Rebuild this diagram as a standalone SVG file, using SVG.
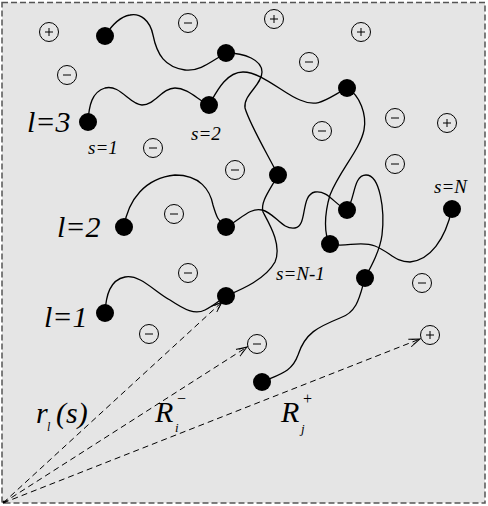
<svg xmlns="http://www.w3.org/2000/svg" width="488" height="506" viewBox="0 0 488 506">
<style>
.chain{fill:none;stroke:#000;stroke-width:1.3}
.bead{fill:#000}
.ion circle{fill:none;stroke:#000;stroke-width:1}
.ion path{stroke:#000;stroke-width:1;fill:none}
.vec{fill:none;stroke:#000;stroke-width:1;stroke-dasharray:6 4}
.lab{font-family:"Liberation Serif","Times New Roman",serif;font-style:italic;fill:#000}
</style>
<defs>
<marker id="ah" viewBox="0 0 12 10" refX="11" refY="5" markerWidth="12" markerHeight="10" markerUnits="userSpaceOnUse" orient="auto">
<path d="M0,1 L11,5 L0,9 M3,2.5 L11,5 L3,7.5" fill="none" stroke="#000" stroke-width="0.9"/>
</marker>
</defs>
<rect x="2" y="2.5" width="483" height="500.5" fill="#e5e5e5" stroke="#555" stroke-width="1.5" stroke-dasharray="6 3"/>

<g id="connectors">
<!-- chain l=3 -->
<path class="chain" d="M88,122 C89,105 92,92 105,88 C120,84 130,105 142,105 C155,105 162,88 175,88 C188,88 198,100 209,105"/>
<path class="chain" d="M209,105 C215,95 225,72 243,72 C262,72 285,95 300,100 C318,108 325,100 347,88"/>
<path class="chain" d="M347,88 C360,95 367,115 364,130 C360,150 340,170 330,195 C324,215 324,235 330,244"/>
<path class="chain" d="M330,244 C345,248 360,240 375,246 C390,252 395,262 410,262 C430,260 445,240 452,209"/>
<!-- chain l=2 -->
<path class="chain" d="M124,227 C128,200 145,178 175,175 C200,175 210,190 213,205 C216,215 218,222 226,227"/>
<path class="chain" d="M226,227 C240,220 250,207 262,210 C275,213 282,230 295,228 C308,226 300,195 315,192 C328,190 335,205 347,210"/>
<path class="chain" d="M347,210 C355,200 353,175 366,175 C380,175 385,210 382,235 C380,250 372,265 365,278"/>
<path class="chain" d="M365,278 C360,295 358,312 340,318 C318,327 305,333 298,355 C292,372 280,374 262,382"/>
<!-- chain l=1 -->
<path class="chain" d="M105,313 C106,295 110,280 125,277 C140,274 155,292 170,300 C185,310 195,315 205,310 C215,305 220,300 226,296"/>
<path class="chain" d="M226,296 C240,290 265,280 275,262 C282,245 270,225 263,212 C260,202 270,190 278,175"/>
<path class="chain" d="M278,175 C268,155 250,125 245,108 C243,95 262,85 262,72 C262,60 245,53 226,53"/>
<path class="chain" d="M226,53 C213,60 200,72 185,70 C165,67 157,55 153,35 C150,20 140,13 130,15 C118,17 110,28 105,36"/>
<!-- position vectors -->
<path class="vec" marker-end="url(#ah)" d="M3,503 L222,302"/>
<path class="vec" marker-end="url(#ah)" d="M3,503 L247,347"/>
<path class="vec" marker-end="url(#ah)" d="M3,503 L420,339"/>
<circle cx="4" cy="502" r="1.5" fill="#000"/>
</g>

<g id="beads">
<circle id="bA" class="bead" cx="105" cy="36" r="9"/>
<circle id="bB" class="bead" cx="226" cy="53" r="9"/>
<circle id="bC" class="bead" cx="209" cy="105" r="9"/>
<circle id="bD" class="bead" cx="88" cy="122" r="9"/>
<circle id="bE" class="bead" cx="347" cy="88" r="9"/>
<circle id="bF" class="bead" cx="278" cy="175" r="9"/>
<circle id="bG" class="bead" cx="124" cy="227" r="9"/>
<circle id="bH" class="bead" cx="226" cy="227" r="9"/>
<circle id="bI" class="bead" cx="347" cy="210" r="9"/>
<circle id="bJ" class="bead" cx="330" cy="244" r="9"/>
<circle id="bK" class="bead" cx="452" cy="209" r="9"/>
<circle id="bL" class="bead" cx="365" cy="278" r="9"/>
<circle id="bM" class="bead" cx="105" cy="313" r="9"/>
<circle id="bN" class="bead" cx="226" cy="296" r="9"/>
<circle id="bO" class="bead" cx="262" cy="382" r="9"/>
</g>

<g id="ions">
<g id="p1" class="ion"><circle cx="49" cy="32" r="9.5"/><path d="M45,32 H53 M49,28 V36"/></g>
<g id="p2" class="ion"><circle cx="274" cy="19" r="9.5"/><path d="M270,19 H278 M274,15 V23"/></g>
<g id="p3" class="ion"><circle cx="361" cy="32" r="9.5"/><path d="M357,32 H365 M361,28 V36"/></g>
<g id="p4" class="ion"><circle cx="447" cy="123" r="9.5"/><path d="M443,123 H451 M447,119 V127"/></g>
<g id="p5" class="ion"><circle cx="430" cy="335" r="9.5"/><path d="M426,335 H434 M430,331 V339"/></g>
<g id="m1" class="ion"><circle cx="188" cy="23" r="9.5"/><path d="M184,23 H192"/></g>
<g id="m2" class="ion"><circle cx="67" cy="75" r="9.5"/><path d="M63,75 H71"/></g>
<g id="m3" class="ion"><circle cx="309" cy="62" r="9.5"/><path d="M305,62 H313"/></g>
<g id="m4" class="ion"><circle cx="153" cy="148" r="9.5"/><path d="M149,148 H157"/></g>
<g id="m5" class="ion"><circle cx="322" cy="131" r="9.5"/><path d="M318,131 H326"/></g>
<g id="m6" class="ion"><circle cx="395" cy="118" r="9.5"/><path d="M391,118 H399"/></g>
<g id="m7" class="ion"><circle cx="235" cy="170" r="9.5"/><path d="M231,170 H239"/></g>
<g id="m8" class="ion"><circle cx="395" cy="164" r="9.5"/><path d="M391,164 H399"/></g>
<g id="m9" class="ion"><circle cx="174" cy="214" r="9.5"/><path d="M170,214 H178"/></g>
<g id="m10" class="ion"><circle cx="188" cy="273" r="9.5"/><path d="M184,273 H192"/></g>
<g id="m11" class="ion"><circle cx="422" cy="283" r="9.5"/><path d="M418,283 H426"/></g>
<g id="m12" class="ion"><circle cx="149" cy="334" r="9.5"/><path d="M145,334 H153"/></g>
<g id="m13" class="ion"><circle cx="257" cy="344" r="9.5"/><path d="M253,344 H261"/></g>
</g>

<g id="labels">
<text class="lab" x="27" y="132" font-size="30">l=3</text>
<text class="lab" x="57" y="237" font-size="30">l=2</text>
<text class="lab" x="44" y="327" font-size="30">l=1</text>
<text class="lab" x="88" y="154" font-size="19">s=1</text>
<text class="lab" x="191" y="140" font-size="19">s=2</text>
<text class="lab" x="434" y="193" font-size="19">s=N</text>
<text class="lab" x="276" y="280" font-size="19">s=N-1</text>
<text class="lab" x="36" y="423" font-size="30">r</text>
<text class="lab" x="47" y="431" font-size="12">l</text>
<text class="lab" x="56" y="423" font-size="30">(s)</text>
<text class="lab" x="155" y="422" font-size="30">R</text>
<text class="lab" x="175" y="432" font-size="13">i</text>
<text class="lab" x="176" y="404" font-size="16">−</text>
<text class="lab" x="281" y="422" font-size="30">R</text>
<text class="lab" x="301" y="433" font-size="13">j</text>
<text class="lab" x="302" y="404" font-size="16">+</text>
</g>
</svg>
